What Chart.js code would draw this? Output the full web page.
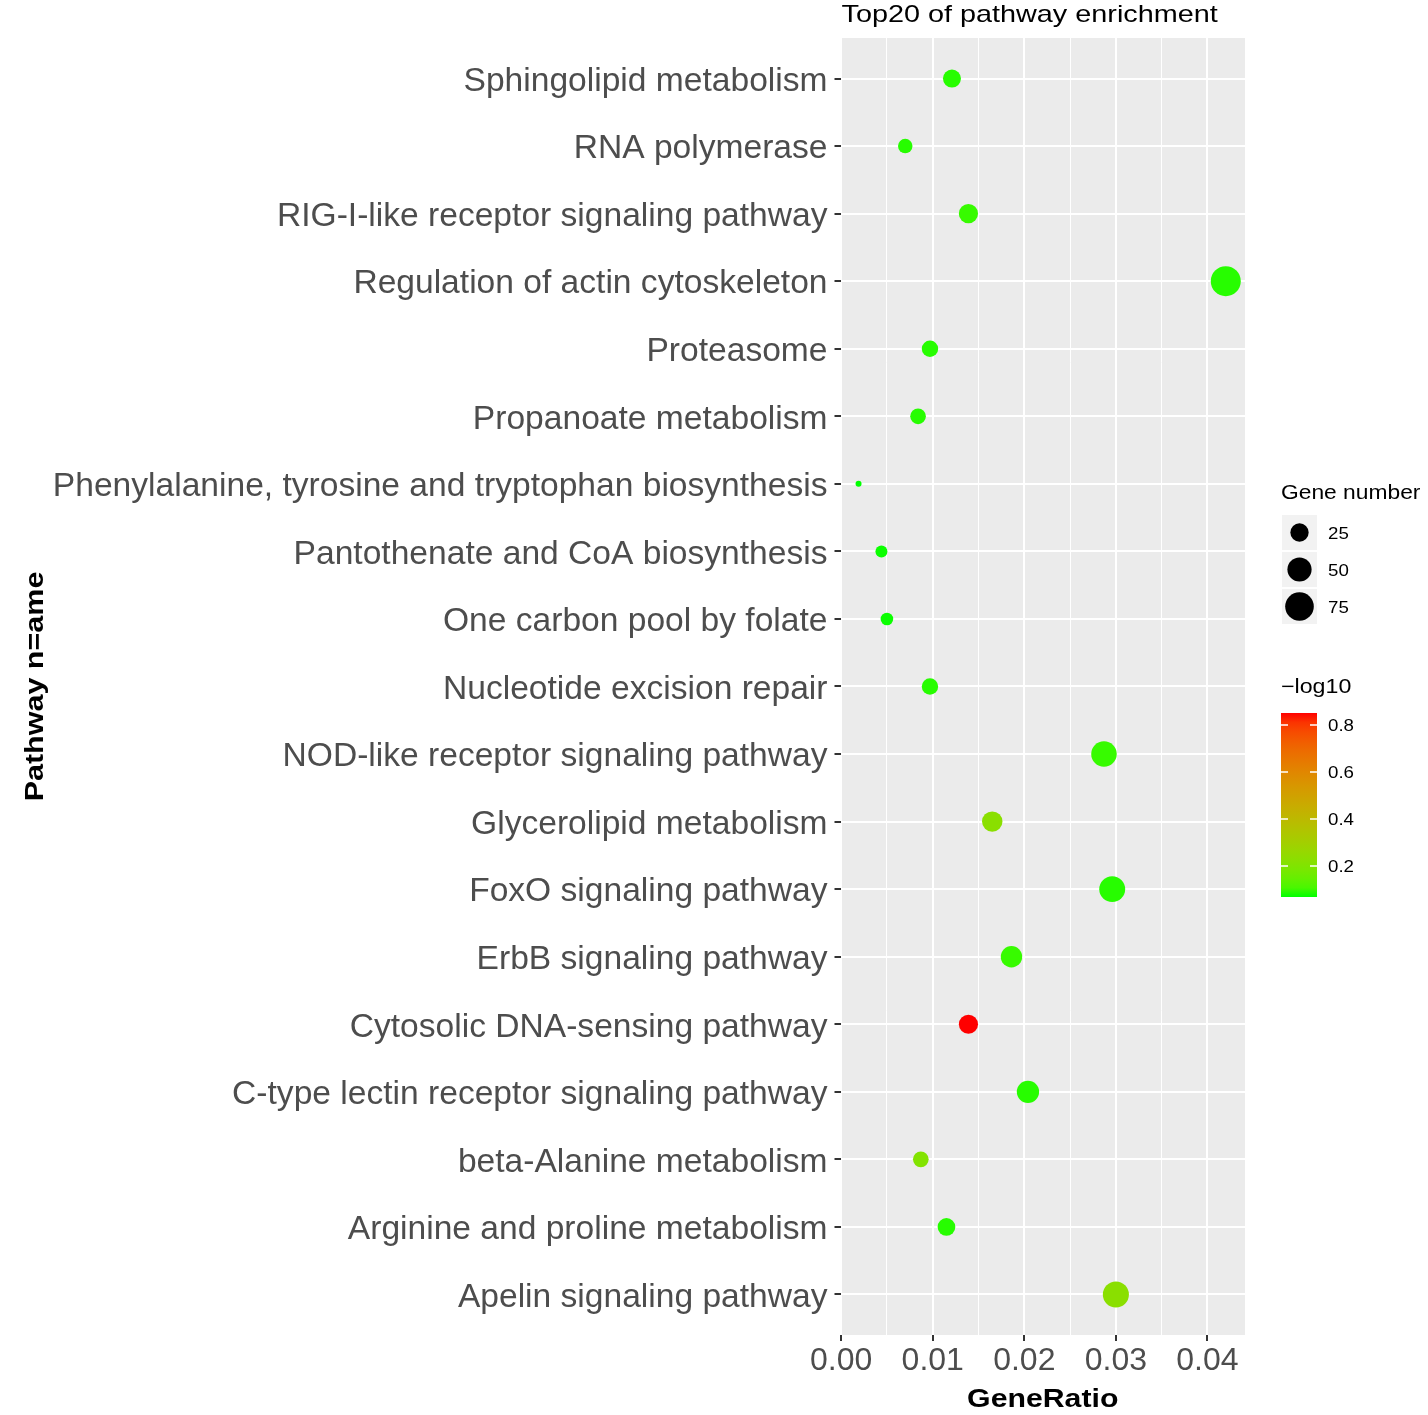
<!DOCTYPE html>
<html>
<head>
<meta charset="utf-8">
<script src="https://cdn.jsdelivr.net/npm/chart.js@4.4.1/dist/chart.umd.min.js"></script>
<style>
  html, body { margin: 0; padding: 0; background: #fff; }
  #wrap { width: 1428px; height: 1415px; position: relative; }
</style>
</head>
<body>
<div id="wrap"><canvas id="chart"></canvas></div>
<script>
// Pathways, top to bottom as drawn
const pathways = [
    'Sphingolipid metabolism',
    'RNA polymerase',
    'RIG-I-like receptor signaling pathway',
    'Regulation of actin cytoskeleton',
    'Proteasome',
    'Propanoate metabolism',
    'Phenylalanine, tyrosine and tryptophan biosynthesis',
    'Pantothenate and CoA biosynthesis',
    'One carbon pool by folate',
    'Nucleotide excision repair',
    'NOD-like receptor signaling pathway',
    'Glycerolipid metabolism',
    'FoxO signaling pathway',
    'ErbB signaling pathway',
    'Cytosolic DNA-sensing pathway',
    'C-type lectin receptor signaling pathway',
    'beta-Alanine metabolism',
    'Arginine and proline metabolism',
    'Apelin signaling pathway'
];
const geneRatio = [0.0121, 0.0070, 0.0139, 0.0420, 0.0097, 0.0084, 0.0019, 0.0044, 0.0050, 0.0097,
                   0.0287, 0.0165, 0.0296, 0.0186, 0.0139, 0.0204, 0.0087, 0.0115, 0.0300];
const geneCount = [24, 14, 28, 84, 19, 17, 4, 9, 10, 19,
                   57, 33, 59, 37, 28, 41, 17, 23, 60];
const negLog10 = [0.08, 0.08, 0.09, 0.08, 0.08, 0.08, 0.068, 0.07, 0.07, 0.08,
                  0.09, 0.225, 0.08, 0.09, 0.851, 0.08, 0.205, 0.08, 0.225];
const xTicks = [0, 0.01, 0.02, 0.03, 0.04];
const sizeBreaks = [25, 50, 75];
const colorBreaks = [0.2, 0.4, 0.6, 0.8];

const FONT = "'Liberation Sans', Arial, sans-serif";

// --- colour: green -> red, interpolated in Lab like ggplot
function srgbToLin(c) { c /= 255; return c <= 0.04045 ? c / 12.92 : Math.pow((c + 0.055) / 1.055, 2.4); }
function linToSrgb(c) { c = c <= 0.0031308 ? 12.92 * c : 1.055 * Math.pow(c, 1 / 2.4) - 0.055; return Math.max(0, Math.min(255, Math.round(c * 255))); }
function rgbToLab(r, g, b) {
    r = srgbToLin(r); g = srgbToLin(g); b = srgbToLin(b);
    let x = (0.4124 * r + 0.3576 * g + 0.1805 * b) / 0.95047;
    let y = (0.2126 * r + 0.7152 * g + 0.0722 * b);
    let z = (0.0193 * r + 0.1192 * g + 0.9505 * b) / 1.08883;
    const f = t => t > 0.008856 ? Math.cbrt(t) : 7.787 * t + 16 / 116;
    x = f(x); y = f(y); z = f(z);
    return [116 * y - 16, 500 * (x - y), 200 * (y - z)];
}
function labToRgb(L, a, b) {
    let y = (L + 16) / 116, x = a / 500 + y, z = y - b / 200;
    const fi = t => t * t * t > 0.008856 ? t * t * t : (t - 16 / 116) / 7.787;
    x = fi(x) * 0.95047; y = fi(y); z = fi(z) * 1.08883;
    const r = 3.2406 * x - 1.5372 * y - 0.4986 * z;
    const g = -0.9689 * x + 1.8758 * y + 0.0415 * z;
    const bl = 0.0557 * x - 0.2040 * y + 1.0570 * z;
    return [linToSrgb(r), linToSrgb(g), linToSrgb(bl)];
}
const labLow = rgbToLab(0, 255, 0), labHigh = rgbToLab(255, 0, 0);
const vMin = Math.min(...negLog10), vMax = Math.max(...negLog10);
function colorFor(v) {
    const t = Math.max(0, Math.min(1, (v - vMin) / (vMax - vMin)));
    const c = labToRgb(labLow[0] + t * (labHigh[0] - labLow[0]),
                       labLow[1] + t * (labHigh[1] - labLow[1]),
                       labLow[2] + t * (labHigh[2] - labLow[2]));
    return `rgb(${c[0]},${c[1]},${c[2]})`;
}

// --- size: area scale like scale_size (range 1..6)
const cMin = Math.min(...geneCount), cMax = Math.max(...geneCount);
function radiusFor(n) {
    const s = 1 + 5 * Math.sqrt(Math.max(0, (n - cMin) / (cMax - cMin)));
    return (1.2 + 4.8 * s) / 2;
}

const points = pathways.map((p, i) => ({ x: geneRatio[i], y: i }));

const isMajor = v => Math.round(v * 1000) % 10 === 0;

// text is a bit wider than plain Arial in the original, stretch along the reading direction
function wideText(ctx, text, x, y, sx, rot) {
    ctx.save();
    ctx.translate(x, y);
    if (rot) ctx.rotate(rot);
    ctx.scale(sx, 1);
    ctx.fillText(text, 0, 0);
    ctx.restore();
}

// Panel background + title + legends
const ggDecor = {
    id: 'ggDecor',
    beforeDraw(chart) {
        const { ctx, chartArea: a } = chart;
        ctx.save();
        ctx.fillStyle = '#EBEBEB';
        ctx.fillRect(a.left, a.top, a.right - a.left, a.bottom - a.top);
        ctx.restore();
    },
    afterDraw(chart) {
        const { ctx, chartArea: a } = chart;
        ctx.save();
        // title
        ctx.fillStyle = '#000';
        ctx.font = `24px ${FONT}`;
        ctx.textAlign = 'left';
        ctx.textBaseline = 'alphabetic';
        wideText(ctx, 'Top20 of pathway enrichment', a.left + 1, 22, 1.2);

        // axis titles
        ctx.font = `bold 25px ${FONT}`;
        ctx.textAlign = 'center';
        wideText(ctx, 'GeneRatio', (a.left + a.right) / 2, 1407, 1.21);
        wideText(ctx, 'Pathway n=ame', 43, (a.top + a.bottom) / 2, 1.22, -Math.PI / 2);

        // size legend
        const lx = 1281;
        ctx.textAlign = 'left';
        ctx.font = `20px ${FONT}`;
        wideText(ctx, 'Gene number', lx, 499, 1.14);
        ctx.font = `17px ${FONT}`;
        ctx.textBaseline = 'middle';
        sizeBreaks.forEach((b, i) => {
            const top = 515 + i * 37;
            ctx.fillStyle = '#F2F2F2';
            ctx.fillRect(lx + 1, top, 35, 35);
            ctx.fillStyle = '#000';
            ctx.beginPath();
            ctx.arc(lx + 18.5, top + 17.5, radiusFor(b), 0, Math.PI * 2);
            ctx.fill();
            wideText(ctx, String(b), lx + 47, top + 19, 1.1);
        });

        // colour legend
        ctx.textBaseline = 'alphabetic';
        ctx.font = `20px ${FONT}`;
        wideText(ctx, '\u2212log10', lx, 693, 1.16);
        const barTop = 713, barBot = 897, barL = 1281, barW = 36;
        const grad = ctx.createLinearGradient(0, barBot, 0, barTop);
        for (let k = 0; k <= 20; k++) {
            grad.addColorStop(k / 20, colorFor(vMin + (vMax - vMin) * k / 20));
        }
        ctx.fillStyle = grad;
        ctx.fillRect(barL, barTop, barW, barBot - barTop);
        ctx.font = `17px ${FONT}`;
        ctx.textBaseline = 'middle';
        colorBreaks.forEach(b => {
            const y = barBot - (b - vMin) / (vMax - vMin) * (barBot - barTop);
            ctx.strokeStyle = '#fff';
            ctx.lineWidth = 1.5;
            ctx.beginPath();
            ctx.moveTo(barL, y); ctx.lineTo(barL + 7, y);
            ctx.moveTo(barL + barW - 7, y); ctx.lineTo(barL + barW, y);
            ctx.stroke();
            ctx.fillStyle = '#000';
            wideText(ctx, b.toFixed(1), lx + 47, y + 1, 1.1);
        });
        ctx.restore();
    }
};

new Chart(document.getElementById('chart'), {
    type: 'scatter',
    data: {
        datasets: [{
            data: points,
            pointRadius: ctx => radiusFor(geneCount[ctx.dataIndex]),
            pointHoverRadius: ctx => radiusFor(geneCount[ctx.dataIndex]),
            pointBackgroundColor: ctx => colorFor(negLog10[ctx.dataIndex]),
            pointBorderWidth: 0,
            clip: false
        }]
    },
    options: {
        responsive: true,
        maintainAspectRatio: false,
        animation: false,
        layout: { padding: { top: 38, right: 183, bottom: 0, left: 0 } },
        plugins: { legend: { display: false }, tooltip: { enabled: false } },
        scales: {
            x: {
                type: 'linear',
                min: -0.00007,
                max: 0.0441,
                afterBuildTicks: scale => {
                    const t = [];
                    for (let k = 0; k <= 8; k++) t.push({ value: k * 0.005 });
                    scale.ticks = t;
                },
                afterFit: scale => { scale.height = 80; },
                border: { display: false },
                grid: {
                    color: '#FFFFFF',
                    lineWidth: ctx => isMajor(ctx.tick.value) ? 2 : 1,
                    tickColor: ctx => isMajor(ctx.tick.value) ? '#333333' : 'rgba(0,0,0,0)',
                    tickWidth: 2,
                    tickLength: 6
                },
                ticks: {
                    autoSkip: false,
                    maxRotation: 0,
                    padding: 1,
                    color: '#4D4D4D',
                    font: { family: FONT, size: 32 },
                    callback: v => isMajor(v) ? xTicks.find(t => Math.abs(t - v) < 1e-9).toFixed(2) : ''
                }
            },
            y: {
                type: 'linear',
                reverse: true,
                min: -0.6,
                max: pathways.length - 0.4,
                afterBuildTicks: scale => { scale.ticks = pathways.map((p, i) => ({ value: i })); },
                afterFit: scale => { scale.width = 840.5; },
                border: { display: false },
                grid: {
                    color: '#FFFFFF',
                    lineWidth: 2,
                    tickColor: '#333333',
                    tickWidth: 2,
                    tickLength: 6
                },
                ticks: {
                    autoSkip: false,
                    padding: 7,
                    labelOffset: 3,
                    color: '#4D4D4D',
                    font: { family: FONT, size: 33.6 },
                    callback: v => pathways[v]
                }
            }
        }
    },
    plugins: [ggDecor]
});
</script>
</body>
</html>
